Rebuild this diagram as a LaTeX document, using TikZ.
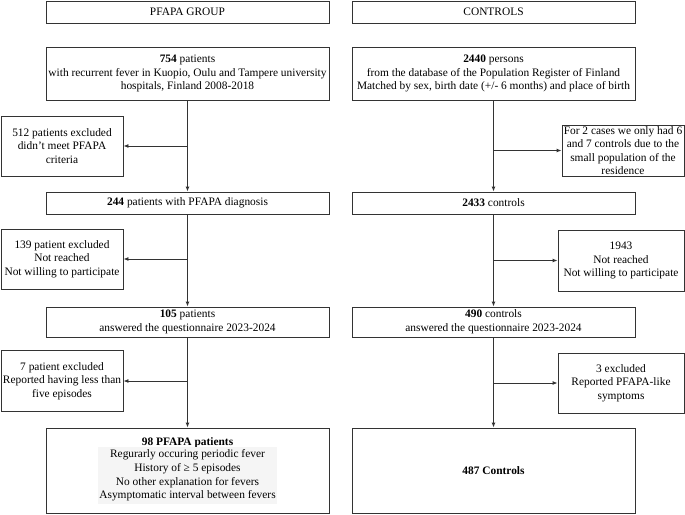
\documentclass[tikz,border=0pt]{standalone}
\usepackage{fontspec}
\setmainfont{Liberation Serif}
\usepackage{xcolor}
\usetikzlibrary{positioning, arrows.meta, calc}
\definecolor{boxline}{HTML}{333333}
\definecolor{critgray}{HTML}{F5F5F5}

\begin{document}
\begin{tikzpicture}[x=1pt, y=-1pt,
    box/.style={draw=boxline, line width=0.9pt, align=center, inner sep=0.5pt,
                font=\fontsize{11.4}{13.6}\selectfont},
    mainbox/.style={box, minimum width=283pt},
    sidebox/.style={box, minimum width=122pt},
    flow/.style={draw=boxline, line width=0.9pt, -{Latex[length=5pt, width=4pt]}}]
  \useasboundingbox (0,0) rectangle (685,514);

  % PFAPA group
  \node[mainbox, minimum height=22pt] (grpP) at (187.5,12) {PFAPA GROUP};
  \node[mainbox, minimum height=53pt] (p754) at (187.5,73.5) {%
    \textbf{754} patients\\
    with recurrent fever in Kuopio, Oulu and Tampere university\\
    hospitals, Finland 2008-2018};
  \node[sidebox, minimum height=60pt] (ex512) at (62,146) {%
    512 patients excluded\\ didn't meet PFAPA\\ criteria};
  \node[mainbox, minimum height=22pt] (p244) at (187.5,203) {\textbf{244} patients with PFAPA diagnosis};
  \node[sidebox, minimum height=60pt] (ex139) at (62,259) {%
    139 patient excluded\\ Not reached\\ Not willing to participate};
  \node[mainbox, minimum height=30pt] (p105) at (187.5,322) {%
    \textbf{105} patients\\ answered the questionnaire 2023-2024};
  \node[sidebox, minimum height=61pt] (ex7) at (62,381) {%
    7 patient excluded\\ Reported having less than\\ five episodes};
  \node[mainbox, minimum height=85pt] (p98) at (187.5,470.5) {%
    \textbf{98 PFAPA patients}\\[-1pt]
    {\setlength\fboxsep{1pt}\colorbox{critgray}{\begin{tabular}{@{}c@{}}
      Regurarly occuring periodic fever\\
      History of ≥ 5 episodes\\
      No other explanation for fevers\\
      Asymptomatic interval between fevers
    \end{tabular}}}};

  % controls
  \node[mainbox, minimum height=22pt] (grpC) at (493.5,12) {CONTROLS};
  \node[mainbox, minimum height=53pt] (c2440) at (493.5,73.5) {%
    \textbf{2440} persons\\
    from the database of the Population Register of Finland\\
    Matched by sex, birth date (+/- 6 months) and place of birth};
  \node[sidebox, minimum height=51pt] (exsmall) at (623,150.5) {%
    For 2 cases we only had 6\\ and 7 controls due to the\\ small population of the\\ residence};
  \node[mainbox, minimum height=22pt] (c2433) at (493.5,203) {\textbf{2433} controls};
  \node[sidebox, minimum width=126pt, minimum height=61pt] (ex1943) at (621,260.5) {%
    1943\\ Not reached\\ Not willing to participate};
  \node[mainbox, minimum height=30pt] (c490) at (493.5,322) {%
    \textbf{490} controls\\ answered the questionnaire 2023-2024};
  \node[sidebox, minimum width=126pt, minimum height=60pt] (ex3) at (621,383) {%
    3 excluded\\ Reported PFAPA-like\\ symptoms};
  \node[mainbox, minimum height=85pt] (c487) at (493.5,470.5) {\textbf{487 Controls}};

  % junctions on the vertical lines
  \coordinate (jP1) at (p754.south |- ex512.east);
  \coordinate (jP2) at (p244.south |- ex139.east);
  \coordinate (jP3) at (p105.south |- ex7.east);
  \coordinate (jC1) at (c2440.south |- exsmall.west);
  \coordinate (jC2) at (c2433.south |- ex1943.west);
  \coordinate (jC3) at (c490.south |- ex3.west);

  \draw[flow] (p754) -- (p244);
  \draw[flow] (p244) -- (p105);
  \draw[flow] (p105) -- (p98);
  \draw[flow] (jP1) -- (ex512);
  \draw[flow] (jP2) -- (ex139);
  \draw[flow] (jP3) -- (ex7);

  \draw[flow] (c2440) -- (c2433);
  \draw[flow] (c2433) -- (c490);
  \draw[flow] (c490) -- (c487);
  \draw[flow] (jC1) -- (exsmall);
  \draw[flow] (jC2) -- (ex1943);
  \draw[flow] (jC3) -- (ex3);
\end{tikzpicture}
\end{document}
